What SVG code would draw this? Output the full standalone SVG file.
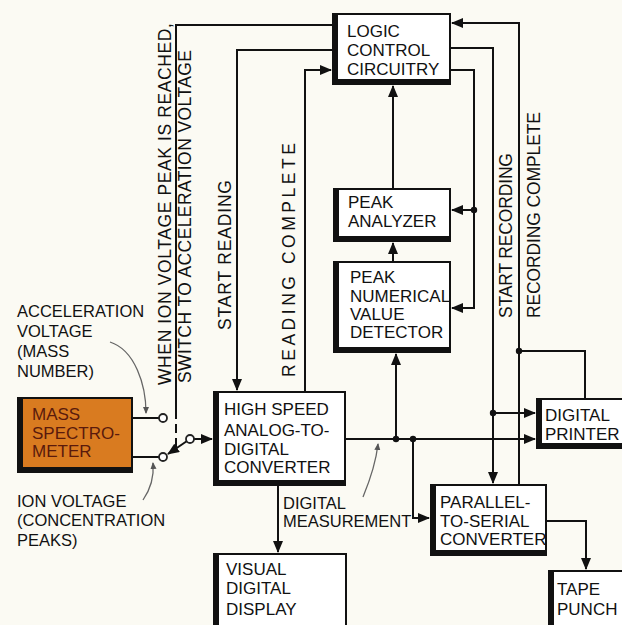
<svg xmlns="http://www.w3.org/2000/svg" width="622" height="625" viewBox="0 0 622 625">
<defs>
<marker id="ah" markerUnits="userSpaceOnUse" markerWidth="14" markerHeight="12" refX="11" refY="5" orient="auto"><path d="M0,0 L12,5 L0,10 Z" fill="#111"/></marker>
<marker id="lh" markerUnits="userSpaceOnUse" markerWidth="8" markerHeight="8" refX="6" refY="3" orient="auto"><path d="M0,0 L7,3 L0,6 Z" fill="#555"/></marker>
</defs>
<style>
text{font-family:"Liberation Sans",Arial,sans-serif;font-size:17px;fill:#111}
.lbl{font-size:16.5px}
.rot{font-size:17.5px}
.shadow{fill:#111}
.face{fill:#fff}
.wire{fill:none;stroke:#111;stroke-width:2}
.lead{fill:none;stroke:#666;stroke-width:1.3}
.dot{fill:#111}
.pin{fill:#fff;stroke:#222;stroke-width:1.8}
.ms{fill:#5a1a0c}
</style>
<rect width="622" height="625" fill="#fbfaf3"/>

<g id="connectors">
<path class="wire" d="M332,25 H176 V410"/>
<path class="wire" d="M176,410 V448" stroke-dasharray="9,5"/>
<path class="wire" d="M332,50 H237 V390" marker-end="url(#ah)"/>
<path class="wire" d="M305,391 V70 H331" marker-end="url(#ah)"/>
<path class="wire" d="M393,261 V243" marker-end="url(#ah)"/>
<path class="wire" d="M393,188 V86" marker-end="url(#ah)"/>
<path class="wire" d="M451,70 H474 V308 H452" marker-end="url(#ah)"/>
<path class="wire" d="M474,210 H452" marker-end="url(#ah)"/>
<path class="wire" d="M451,48 H493 V483" marker-end="url(#ah)"/>
<path class="wire" d="M493,413 H535" marker-end="url(#ah)"/>
<path class="wire" d="M519,484 V23 H452" marker-end="url(#ah)"/>
<path class="wire" d="M519,351 H585 V398"/>
<path class="wire" d="M346,439 H535" marker-end="url(#ah)"/>
<path class="wire" d="M396,439 V354" marker-end="url(#ah)"/>
<path class="wire" d="M413,439 V518 H429" marker-end="url(#ah)"/>
<path class="wire" d="M278,486 V552" marker-end="url(#ah)"/>
<path class="wire" d="M547,521 H586 V569" marker-end="url(#ah)"/>
<path class="wire" d="M133,418 H159"/>
<path class="wire" d="M133,457 H159"/>
<path class="wire" d="M194,439 H212" marker-end="url(#ah)"/>
<path class="wire" d="M187,441 L168,454" marker-end="url(#ah)"/>
<circle class="pin" cx="163" cy="418" r="4"/>
<circle class="pin" cx="163" cy="457" r="4"/>
<circle class="pin" cx="190" cy="439" r="4"/>
<circle class="dot" cx="474" cy="210" r="3.2"/>
<circle class="dot" cx="493" cy="413" r="3.2"/>
<circle class="dot" cx="519" cy="351" r="3.2"/>
<circle class="dot" cx="396" cy="439" r="3.2"/>
<circle class="dot" cx="413" cy="439" r="3.2"/>
<path class="lead" d="M110,342 C135,350 146,385 146,413" marker-end="url(#lh)"/>
<path class="lead" d="M143,500 C152,487 154,475 153,463" marker-end="url(#lh)"/>
<path class="lead" d="M363,497 C370,480 376,462 378,444" marker-end="url(#lh)"/>
</g>

<g id="labels">
<text class="rot" transform="translate(171,385) rotate(-90)" textLength="362" lengthAdjust="spacing">WHEN ION VOLTAGE PEAK IS REACHED,</text>
<text class="rot" transform="translate(191,383) rotate(-90)" textLength="333" lengthAdjust="spacing">SWITCH TO ACCELERATION VOLTAGE</text>
<text class="rot" transform="translate(231,330) rotate(-90)" textLength="150" lengthAdjust="spacing">START READING</text>
<text class="rot" transform="translate(295,377) rotate(-90)" textLength="234" lengthAdjust="spacing">READING COMPLETE</text>
<text class="rot" transform="translate(512,318) rotate(-90)" textLength="165" lengthAdjust="spacing">START RECORDING</text>
<text class="rot" transform="translate(540,318) rotate(-90)" textLength="206" lengthAdjust="spacing">RECORDING COMPLETE</text>
<text class="lbl" x="17" y="317">ACCELERATION</text>
<text class="lbl" x="17" y="337">VOLTAGE</text>
<text class="lbl" x="17" y="357">(MASS</text>
<text class="lbl" x="17" y="377">NUMBER)</text>
<text class="lbl" x="17" y="507">ION VOLTAGE</text>
<text class="lbl" x="17" y="526">(CONCENTRATION</text>
<text class="lbl" x="17" y="546">PEAKS)</text>
<text class="lbl" x="283" y="509">DIGITAL</text>
<text class="lbl" x="283" y="527">MEASUREMENT</text>
</g>

<g id="logic">
<rect class="shadow" x="332" y="13" width="119" height="72"/>
<rect class="face" x="338" y="15" width="111" height="64"/>
<text x="347" y="37">LOGIC</text><text x="347" y="56">CONTROL</text><text x="347" y="75">CIRCUITRY</text>
</g>
<g id="peak-analyzer">
<rect class="shadow" x="333" y="188" width="118" height="54"/>
<rect class="face" x="339" y="190" width="110" height="46"/>
<text x="348" y="208">PEAK</text><text x="348" y="227">ANALYZER</text>
</g>
<g id="peak-detector">
<rect class="shadow" x="333" y="261" width="118" height="92"/>
<rect class="face" x="339" y="263" width="110" height="84"/>
<text x="350" y="283">PEAK</text><text x="350" y="302">NUMERICAL</text><text x="350" y="320">VALUE</text><text x="350" y="338">DETECTOR</text>
</g>
<g id="adc">
<rect class="shadow" x="213" y="391" width="133" height="95"/>
<rect class="face" x="219" y="393" width="125" height="87"/>
<text x="224" y="415">HIGH SPEED</text><text x="224" y="436">ANALOG-TO-</text><text x="224" y="455">DIGITAL</text><text x="224" y="473">CONVERTER</text>
</g>
<g id="printer">
<rect class="shadow" x="536" y="398" width="90" height="51"/>
<rect class="face" x="542" y="400" width="80" height="43"/>
<text x="545" y="421">DIGITAL</text><text x="545" y="440">PRINTER</text>
</g>
<g id="p2s">
<rect class="shadow" x="430" y="484" width="117" height="72"/>
<rect class="face" x="436" y="486" width="109" height="64"/>
<text x="440" y="508">PARALLEL-</text><text x="440" y="527">TO-SERIAL</text><text x="440" y="545">CONVERTER</text>
</g>
<g id="tape">
<rect class="shadow" x="548" y="570" width="80" height="60"/>
<rect class="face" x="554" y="572" width="70" height="60"/>
<text x="557" y="595">TAPE</text><text x="557" y="615">PUNCH</text>
</g>
<g id="display">
<rect class="shadow" x="213" y="553" width="134" height="77"/>
<rect class="face" x="219" y="555" width="126" height="77"/>
<text x="226" y="575">VISUAL</text><text x="226" y="594">DIGITAL</text><text x="226" y="615">DISPLAY</text>
</g>
<g id="spectrometer">
<rect class="shadow" x="17" y="397" width="116" height="76"/>
<rect x="23" y="399" width="108" height="68" fill="#d97b20"/>
<text class="ms" x="32" y="420">MASS</text><text class="ms" x="32" y="439">SPECTRO-</text><text class="ms" x="32" y="457">METER</text>
</g>
</svg>
